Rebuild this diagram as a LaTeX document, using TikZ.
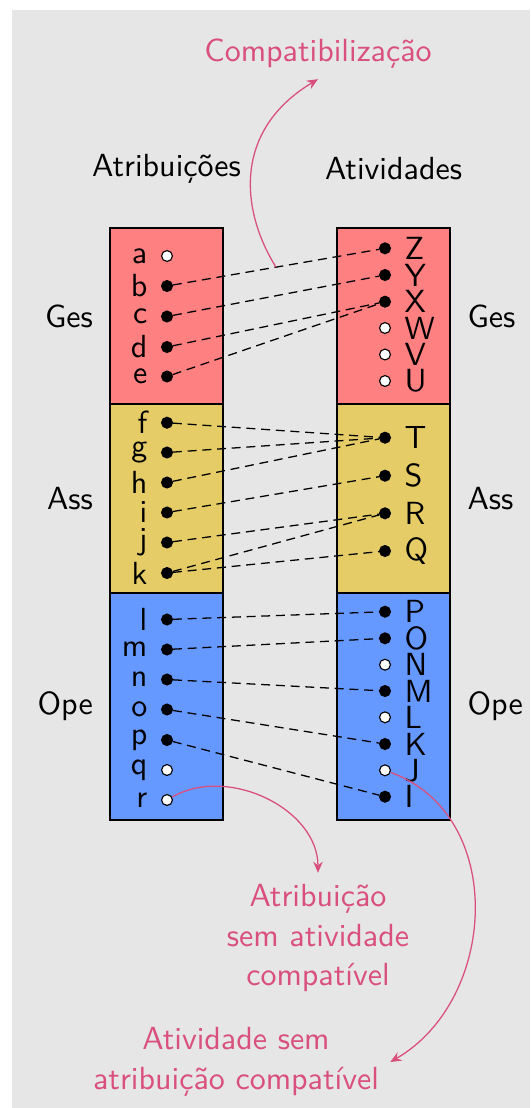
\documentclass[tikz,border=0pt]{standalone}
\usetikzlibrary{arrows.meta}
\definecolor{bg}{RGB}{230,230,230}
\definecolor{gesc}{RGB}{255,128,128}
\definecolor{assc}{RGB}{229,204,102}
\definecolor{opec}{RGB}{102,153,255}
\definecolor{pinkc}{RGB}{217,80,125}
\begin{document}
\begin{tikzpicture}[x=0.3125pt,y=-0.3125pt,
  every node/.style={font=\sffamily},
  dot/.style={circle, draw=black, line width=0.35pt, fill=#1, minimum size=3.4pt, inner sep=0pt},
  lab/.style={inner sep=0pt},
  box/.style={draw=black, line width=0.6pt},
  conn/.style={dash pattern=on 2.8pt off 1.8pt, line width=0.4pt},
  note/.style={text=pinkc, align=center, font=\sffamily\fontsize{10}{12.4}\selectfont},
  callout/.style={pinkc, line width=0.4pt, -{Stealth[length=3.5pt,width=3pt,inset=1.2pt]}}
]
\useasboundingbox (0,0) rectangle (530,1108);
\fill[bg] (12,10) rectangle (530,1108);
% boxes
\path[box, fill=gesc] (110,228) rectangle (223,404);
\path[box, fill=assc] (110,404) rectangle (223,593);
\path[box, fill=opec] (110,593) rectangle (223,820);
\path[box, fill=gesc] (337,228) rectangle (450,404);
\path[box, fill=assc] (337,404) rectangle (450,593);
\path[box, fill=opec] (337,593) rectangle (450,820);
% group labels
\node[lab, anchor=east] (gesL) at (93.5,316) {Ges};
\node[lab, anchor=east] (assL) at (93.5,498.5) {Ass};
\node[lab, anchor=east] (opeL) at (93.5,706.5) {Ope};
\node[lab, anchor=west] (gesR) at (467,316) {Ges};
\node[lab, anchor=west] (assR) at (467,498.5) {Ass};
\node[lab, anchor=west] (opeR) at (467,706.5) {Ope};
% headers
\node[lab, anchor=base] (hA) at (166.5,176) {Atribuições};
\node[lab, anchor=base] (hB) at (393.5,179) {Atividades};
% left dots
\foreach \nm/\yy/\ff in {a/256/white, b/286/black, c/316.5/black, d/347/black, e/376.5/black,
  f/422.7/black, g/452.5/black, h/482.5/black, i/512.5/black, j/542.5/black, k/573/black,
  l/619.5/black, m/649.5/black, n/679.5/black, o/709.5/black, p/740/black, q/770/white, r/800/white}{
  \node[dot=\ff] (d-\nm) at (167,\yy) {};
  \node[lab, anchor=east] (t-\nm) at (148,\yy) {\nm};
}
% right dots
\foreach \nm/\yy/\ff in {Z/248.3/black, Y/275/black, X/301.7/black, W/328/white, V/354.5/white, U/381/white,
  T/437.7/black, S/475.7/black, R/513.3/black, Q/551/black,
  P/611.7/black, O/638.3/black, N/664.7/white, M/691/black, L/717.3/white, K/744/black, J/770.3/white, I/796.7/black}{
  \node[dot=\ff] (d-\nm) at (385,\yy) {};
  \node[lab, anchor=west] (t-\nm) at (404,\yy) {\nm};
}
% connections
\draw[conn] (d-b) -- coordinate[pos=0.5] (mid) (d-Z);
\foreach \aa/\bb in {c/Y, d/X, e/X, f/T, g/T, h/T, i/S, j/R, k/R, k/Q, l/P, m/O, n/M, o/K, p/I}{
  \draw[conn] (d-\aa) -- (d-\bb);
}
% notes
\node[note, anchor=base] (comp) at (318,61) {Compatibilização};
\node[note] (n1) at (318,938) {Atribuição\\sem atividade\\compatível};
\node[note] (n2) at (236,1062) {Atividade sem\\atribuição compatível};
% callouts
\draw[callout] (mid) to[out=122, in=211, out distance=21pt, in distance=31pt] (comp.south);
\draw[callout] (d-r) to[out=30, in=90] (n1.north);
\draw[callout] (d-J) to[out=-20, in=30, looseness=1.1] (n2.east);
\end{tikzpicture}
\end{document}
